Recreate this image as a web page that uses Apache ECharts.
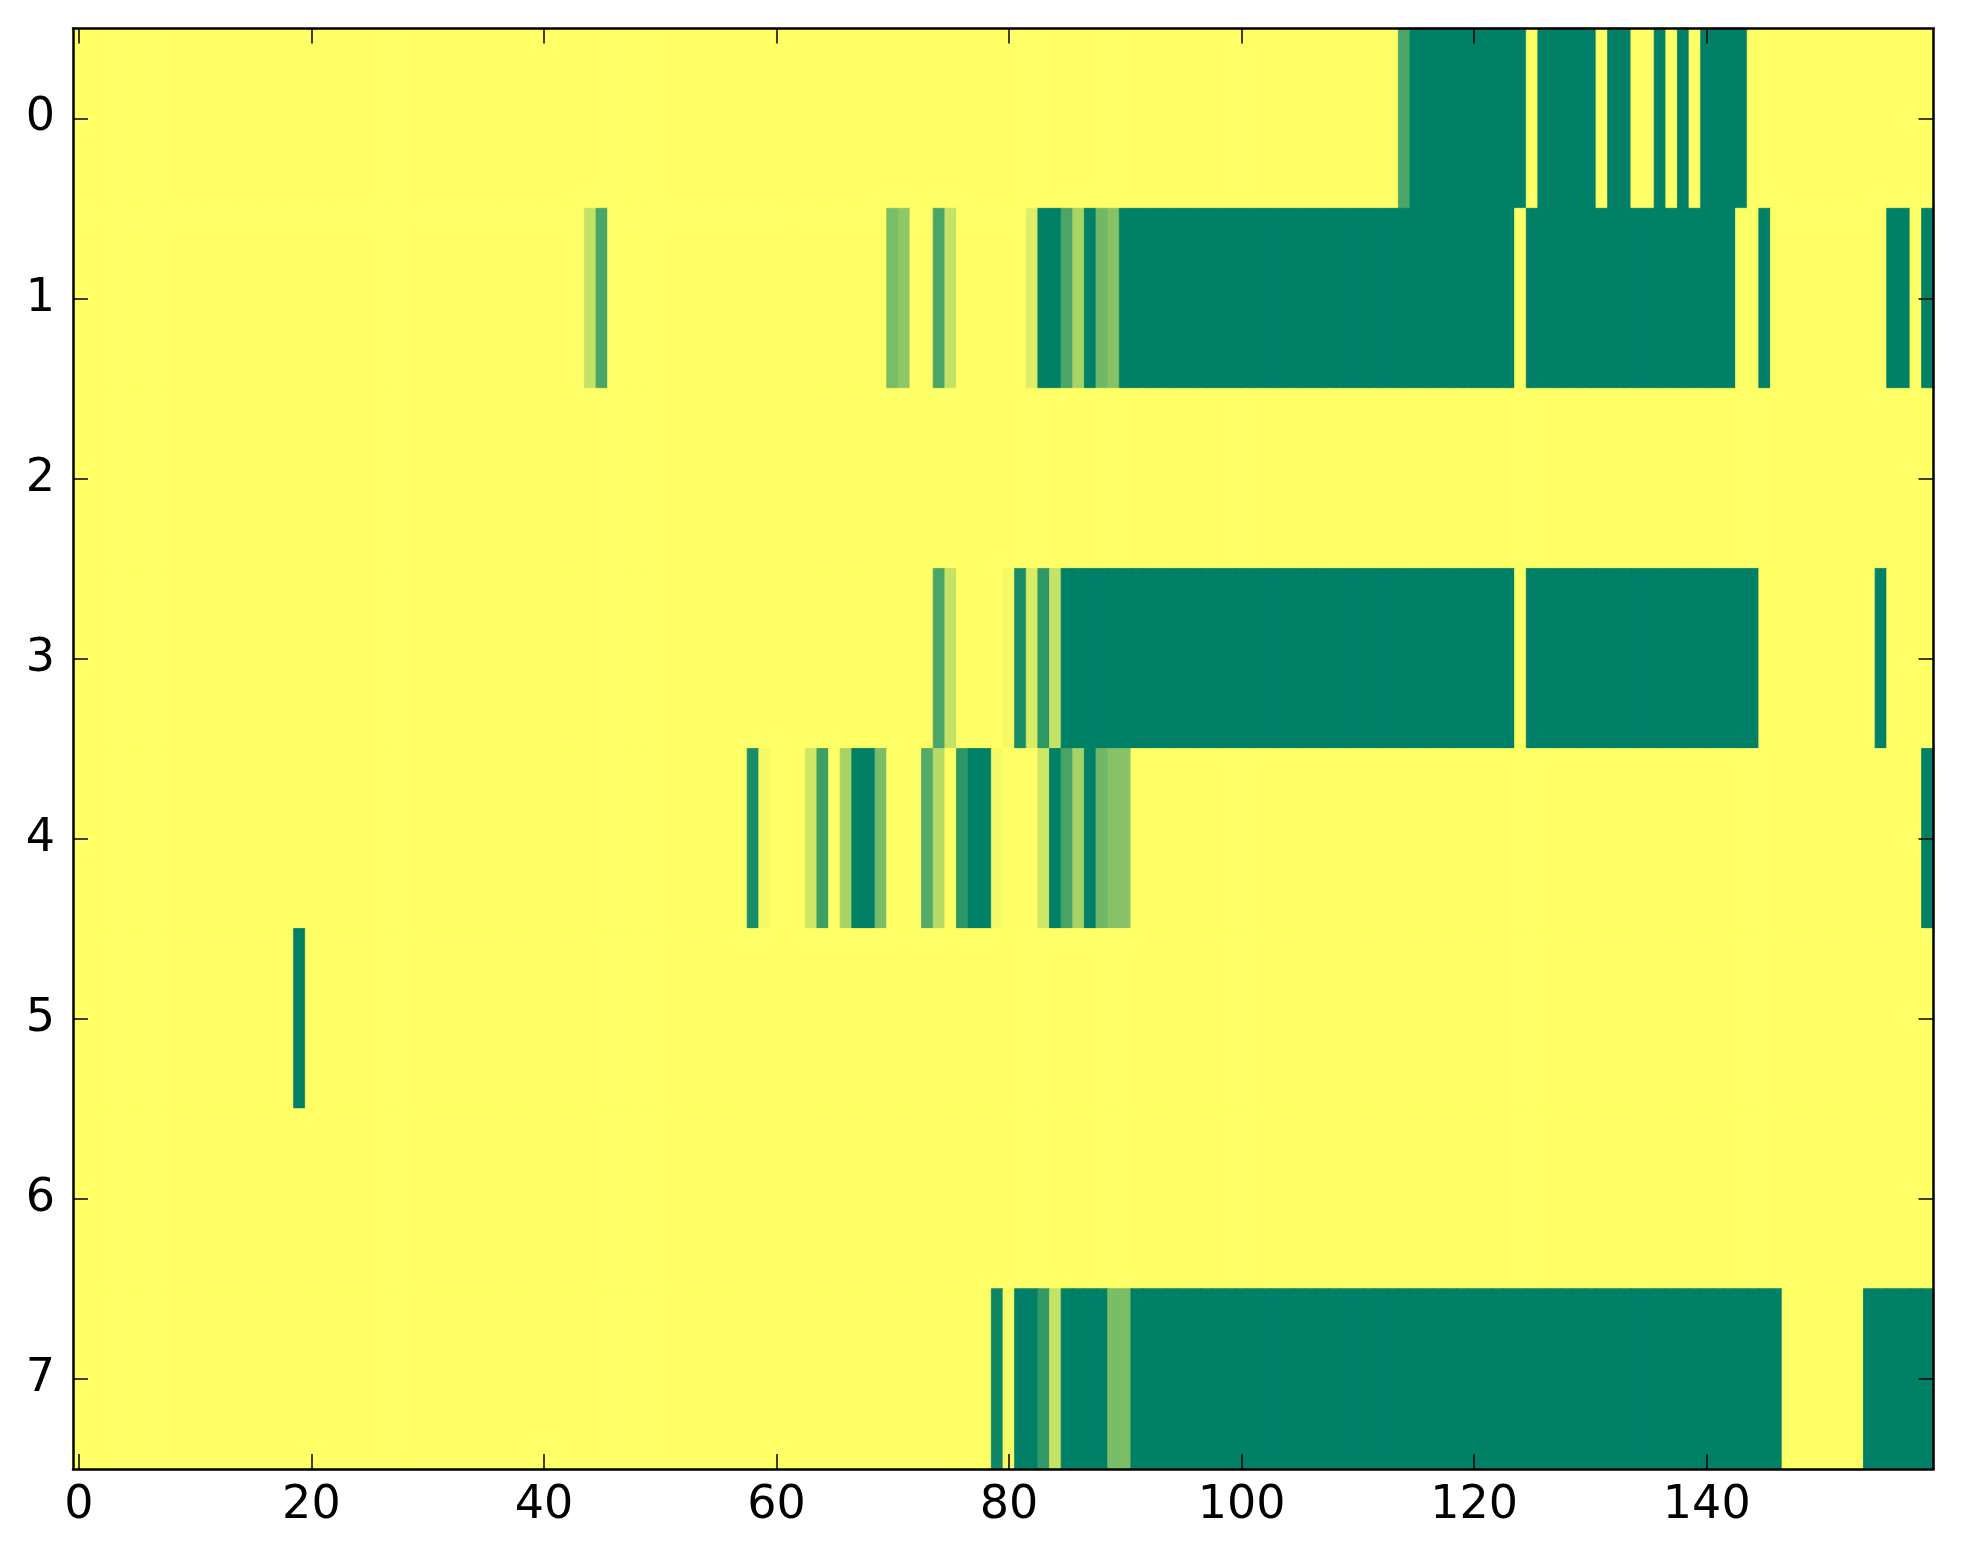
<!DOCTYPE html>
<html>
<head>
<meta charset="utf-8">
<script src="https://cdn.jsdelivr.net/npm/echarts@6/dist/echarts.min.js"></script>
<style>
html,body{margin:0;padding:0;background:#ffffff;}
#chart{width:1963px;height:1564px;}
</style>
</head>
<body>
<div id="chart"></div>
<script>
// ---- data ----
const rowLabels = ['0','1','2','3','4','5','6','7'];
const xTickLabels = ['0','20','40','60','80','100','120','140'];
const colCount = 160;
const colLabels = Array.from({length: colCount}, (_, i) => String(i));
const colorRange = ['#ffff66', '#008066'];

const row0 = [
  0,0,0,0,0,0,0,0,0,0, 0,0,0,0,0,0,0,0,0,0, 0,0,0,0,0,0,0,0,0,0, 0,0,0,0,0,0,0,0,0,0,
  0,0,0,0,0,0,0,0,0,0, 0,0,0,0,0,0,0,0,0,0, 0,0,0,0,0,0,0,0,0,0, 0,0,0,0,0,0,0,0,0,0,
  0,0,0,0,0,0,0,0,0,0, 0,0,0,0,0,0,0,0,0,0, 0,0,0,0,0,0,0,0,0,0, 0,0,0,0,0.71,1,1,1,1,1,
  1,1,1,1,1,0,1,1,1,1, 1,0,1,1,0,0,1,0,1,0, 1,1,1,1,0,0,0,0,0,0, 0,0,0,0,0,0,0,0,0,0
];
const row1 = [
  0,0,0,0,0,0,0,0,0,0, 0,0,0,0,0,0,0,0,0,0, 0,0,0,0,0,0,0,0,0,0, 0,0,0,0,0,0,0,0,0,0,
  0,0,0,0,0.23,0.71,0,0,0,0, 0,0,0,0,0,0,0,0,0,0, 0,0,0,0,0,0,0,0,0,0, 0.52,0.44,0,0,0.71,0.23,0,0,0,0,
  0,0,0.13,1,1,0.71,0.34,1,0.56,0.47, 1,1,1,1,1,1,1,1,1,1, 1,1,1,1,1,1,1,1,1,1, 1,1,1,1,1,1,1,1,1,1,
  1,1,1,1,0,1,1,1,1,1, 1,1,1,1,1,1,1,1,1,1, 1,1,1,0,0,1,0,0,0,0, 0,0,0,0,0,0,1,1,0,1
];
const row2 = [
  0,0,0,0,0,0,0,0,0,0, 0,0,0,0,0,0,0,0,0,0, 0,0,0,0,0,0,0,0,0,0, 0,0,0,0,0,0,0,0,0,0,
  0,0,0,0,0,0,0,0,0,0, 0,0,0,0,0,0,0,0,0,0, 0,0,0,0,0,0,0,0,0,0, 0,0,0,0,0,0,0,0,0,0,
  0,0,0,0,0,0,0,0,0,0, 0,0,0,0,0,0,0,0,0,0, 0,0,0,0,0,0,0,0,0,0, 0,0,0,0,0,0,0,0,0,0,
  0,0,0,0,0,0,0,0,0,0, 0,0,0,0,0,0,0,0,0,0, 0,0,0,0,0,0,0,0,0,0, 0,0,0,0,0,0,0,0,0,0
];
const row3 = [
  0,0,0,0,0,0,0,0,0,0, 0,0,0,0,0,0,0,0,0,0, 0,0,0,0,0,0,0,0,0,0, 0,0,0,0,0,0,0,0,0,0,
  0,0,0,0,0,0,0,0,0,0, 0,0,0,0,0,0,0,0,0,0, 0,0,0,0,0,0,0,0,0,0, 0,0,0,0,0.71,0.23,0,0,0,0,
  0.04,0.9,0.15,0.82,0.23,1,1,1,1,1, 1,1,1,1,1,1,1,1,1,1, 1,1,1,1,1,1,1,1,1,1, 1,1,1,1,1,1,1,1,1,1,
  1,1,1,1,0,1,1,1,1,1, 1,1,1,1,1,1,1,1,1,1, 1,1,1,1,1,0,0,0,0,0, 0,0,0,0,0,1,0,0,0,0
];
const row4 = [
  0,0,0,0,0,0,0,0,0,0, 0,0,0,0,0,0,0,0,0,0, 0,0,0,0,0,0,0,0,0,0, 0,0,0,0,0,0,0,0,0,0,
  0,0,0,0,0,0,0,0,0,0, 0,0,0,0,0,0,0,0,0.9,0.04, 0,0,0,0.19,0.76,0,0.34,1,1,0.52, 0,0,0,0.67,0.29,0,0.82,1,1,0.04,
  0,0,0,0.19,1,0.72,0.35,1,0.56,0.47, 0.47,0,0,0,0,0,0,0,0,0, 0,0,0,0,0,0,0,0,0,0, 0,0,0,0,0,0,0,0,0,0,
  0,0,0,0,0,0,0,0,0,0, 0,0,0,0,0,0,0,0,0,0, 0,0,0,0,0,0,0,0,0,0, 0,0,0,0,0,0,0,0,0,1
];
const row5 = [
  0,0,0,0,0,0,0,0,0,0, 0,0,0,0,0,0,0,0,0,1, 0,0,0,0,0,0,0,0,0,0, 0,0,0,0,0,0,0,0,0,0,
  0,0,0,0,0,0,0,0,0,0, 0,0,0,0,0,0,0,0,0,0, 0,0,0,0,0,0,0,0,0,0, 0,0,0,0,0,0,0,0,0,0,
  0,0,0,0,0,0,0,0,0,0, 0,0,0,0,0,0,0,0,0,0, 0,0,0,0,0,0,0,0,0,0, 0,0,0,0,0,0,0,0,0,0,
  0,0,0,0,0,0,0,0,0,0, 0,0,0,0,0,0,0,0,0,0, 0,0,0,0,0,0,0,0,0,0, 0,0,0,0,0,0,0,0,0,0
];
const row6 = [
  0,0,0,0,0,0,0,0,0,0, 0,0,0,0,0,0,0,0,0,0, 0,0,0,0,0,0,0,0,0,0, 0,0,0,0,0,0,0,0,0,0,
  0,0,0,0,0,0,0,0,0,0, 0,0,0,0,0,0,0,0,0,0, 0,0,0,0,0,0,0,0,0,0, 0,0,0,0,0,0,0,0,0,0,
  0,0,0,0,0,0,0,0,0,0, 0,0,0,0,0,0,0,0,0,0, 0,0,0,0,0,0,0,0,0,0, 0,0,0,0,0,0,0,0,0,0,
  0,0,0,0,0,0,0,0,0,0, 0,0,0,0,0,0,0,0,0,0, 0,0,0,0,0,0,0,0,0,0, 0,0,0,0,0,0,0,0,0,0
];
const row7 = [
  0,0,0,0,0,0,0,0,0,0, 0,0,0,0,0,0,0,0,0,0, 0,0,0,0,0,0,0,0,0,0, 0,0,0,0,0,0,0,0,0,0,
  0,0,0,0,0,0,0,0,0,0, 0,0,0,0,0,0,0,0,0,0, 0,0,0,0,0,0,0,0,0,0, 0,0,0,0,0,0,0,0,0,0.95,
  0.04,1,1,0.8,0.23,1,1,1,1,0.52, 0.52,1,1,1,1,1,1,1,1,1, 1,1,1,1,1,1,1,1,1,1, 1,1,1,1,1,1,1,1,1,1,
  1,1,1,1,1,1,1,1,1,1, 1,1,1,1,1,1,1,1,1,1, 1,1,1,1,1,1,1,0,0,0, 0,0,0,0,1,1,1,1,1,1
];
const rows = [row0, row1, row2, row3, row4, row5, row6, row7];

// ---- build the heatmap table (border in the same colour hides anti-alias seams) ----
const cells = [];
rows.forEach((r, y) => r.forEach((v, x) => cells.push({
  value: [x, y, v],
  itemStyle: {borderColor: echarts.color.lerp(v, colorRange), borderWidth: 0.8}
})));

const font = 'DejaVu Sans';
const isTick = (i) => xTickLabels.indexOf(colLabels[i]) >= 0;
const spine = {lineStyle: {color: '#000', width: 2.5}};
const tickStyle = {color: '#000', width: 1.5};

const chart = echarts.init(document.getElementById('chart'), null, {renderer: 'canvas'});
chart.setOption({
  animation: false,
  backgroundColor: '#ffffff',
  grid: {left: 73, right: 29.5, top: 28.5, bottom: 95, containLabel: false},
  xAxis: [
    {
      type: 'category', position: 'bottom', data: colLabels, z: 10,
      axisLine: spine,
      axisTick: {show: true, inside: true, length: 15, alignWithLabel: true, interval: isTick, lineStyle: tickStyle},
      axisLabel: {show: true, interval: isTick, fontSize: 46, fontFamily: font, color: '#000', margin: 14},
      splitLine: {show: false}
    },
    {
      type: 'category', position: 'top', data: colLabels, z: 10,
      axisLine: spine,
      axisTick: {show: true, inside: true, length: 15, alignWithLabel: true, interval: isTick, lineStyle: tickStyle},
      axisLabel: {show: false},
      splitLine: {show: false}
    }
  ],
  yAxis: [
    {
      type: 'category', position: 'left', data: rowLabels, inverse: true, z: 10,
      axisLine: spine,
      axisTick: {show: true, inside: true, length: 15, alignWithLabel: true, interval: 0, lineStyle: tickStyle},
      axisLabel: {show: true, interval: 0, fontSize: 46, fontFamily: font, color: '#000', margin: 18},
      splitLine: {show: false}
    },
    {
      type: 'category', position: 'right', data: rowLabels, inverse: true, z: 10,
      axisLine: spine,
      axisTick: {show: true, inside: true, length: 15, alignWithLabel: true, interval: 0, lineStyle: tickStyle},
      axisLabel: {show: false},
      splitLine: {show: false}
    }
  ],
  visualMap: {
    type: 'continuous', show: false, min: 0, max: 1, dimension: 2, seriesIndex: 0,
    inRange: {color: colorRange}
  },
  series: [{
    type: 'heatmap', xAxisIndex: 0, yAxisIndex: 0, data: cells,
    progressive: 0,
    emphasis: {disabled: true}, label: {show: false}
  }]
});
</script>
</body>
</html>
